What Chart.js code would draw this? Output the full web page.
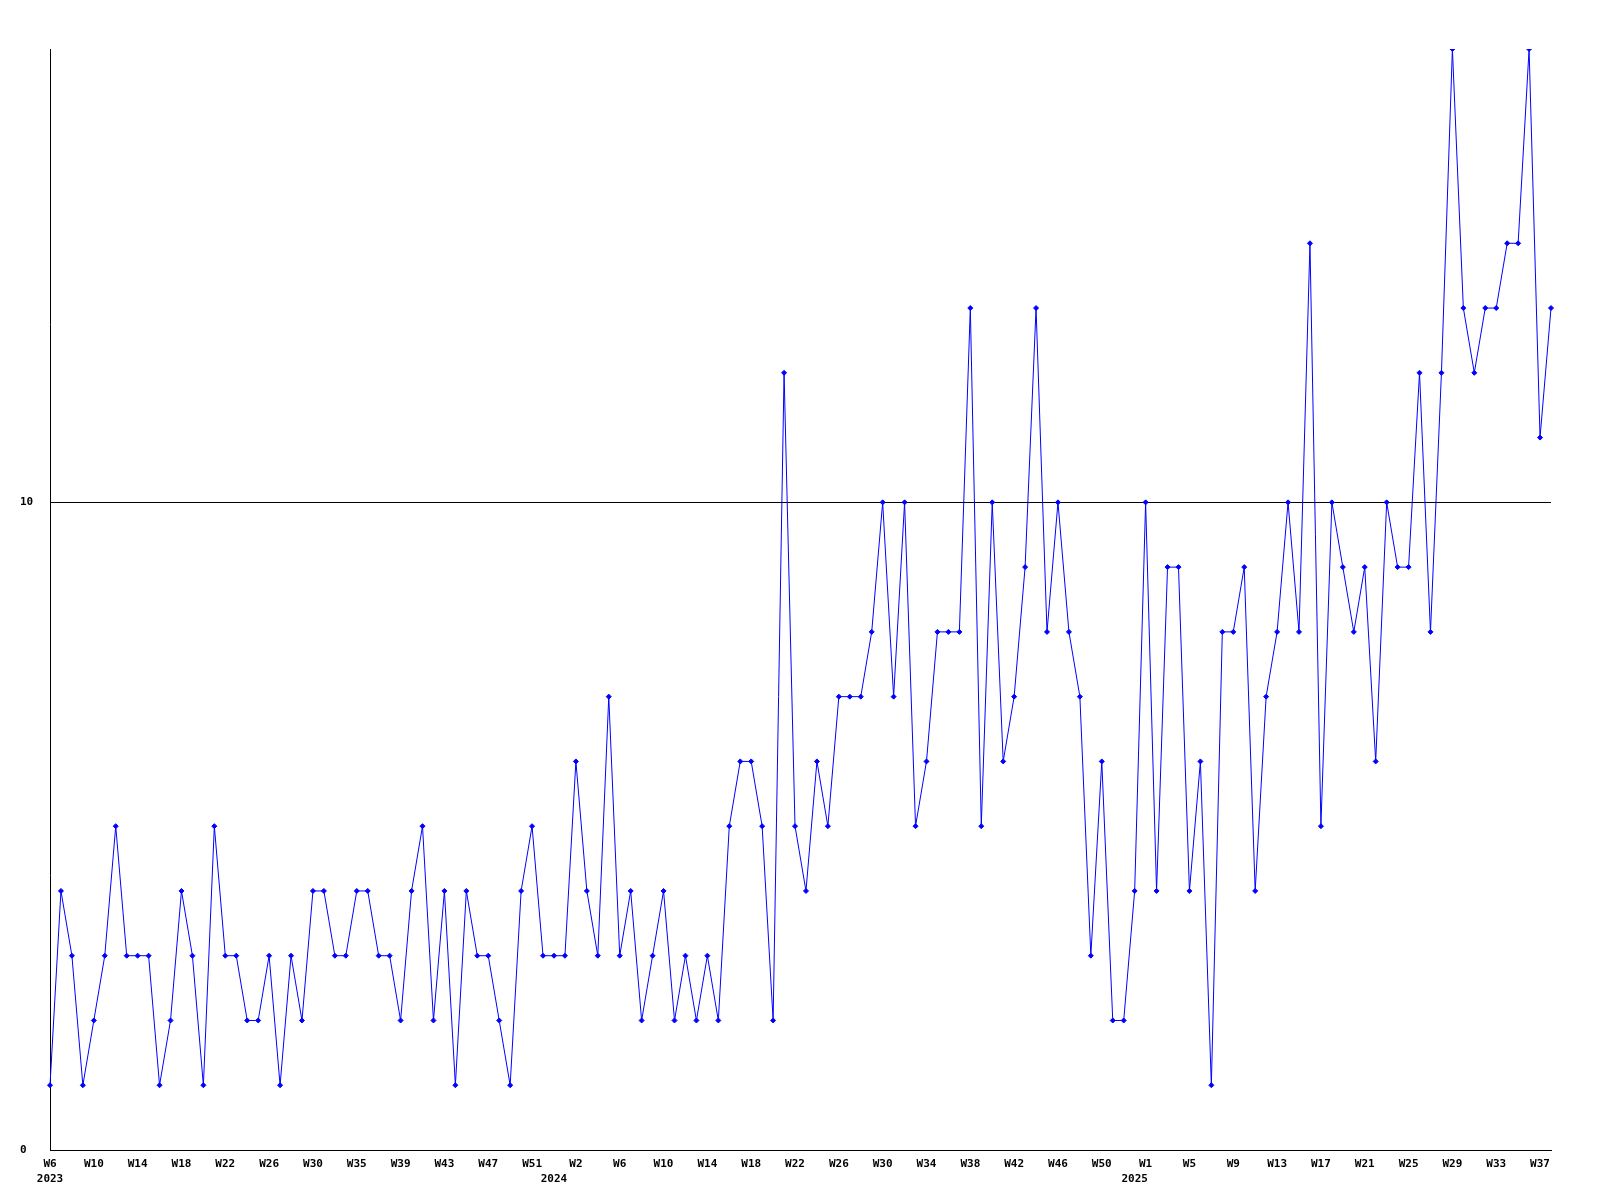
<!DOCTYPE html>
<html>
<head>
<meta charset="utf-8">
<title>Weekly count</title>
<script src="https://cdn.jsdelivr.net/npm/chart.js@4.4.1/dist/chart.umd.min.js"></script>
<style>
  html, body { margin: 0; padding: 0; background: #fff; }
  #wrap { width: 1600px; height: 1200px; }
</style>
</head>
<body>
<div id="wrap"><canvas id="weeklyChart" width="1600" height="1200"></canvas></div>
<script>
// Week tick labels, one every 4th point (W6 2023 .. W37 2025)
const tickLabels = [
  'W6', 'W10', 'W14', 'W18', 'W22', 'W26', 'W30', 'W35', 'W39', 'W43', 'W47', 'W51',
  'W2', 'W6', 'W10', 'W14', 'W18', 'W22', 'W26', 'W30', 'W34', 'W38', 'W42', 'W46', 'W50',
  'W1', 'W5', 'W9', 'W13', 'W17', 'W21', 'W25', 'W29', 'W33', 'W37',
];

// Year labels, placed under the point with this index (second label line)
const yearPointIndex = [0, 46, 99];
const yearLabels = ['2023', '2024', '2025'];

// One value per week
const weeklyValues = [
  1, 4, 3, 1, 2, 3, 5, 3, 3, 3,
  1, 2, 4, 3, 1, 5, 3, 3, 2, 2,
  3, 1, 3, 2, 4, 4, 3, 3, 4, 4,
  3, 3, 2, 4, 5, 2, 4, 1, 4, 3,
  3, 2, 1, 4, 5, 3, 3, 3, 6, 4,
  3, 7, 3, 4, 2, 3, 4, 2, 3, 2,
  3, 2, 5, 6, 6, 5, 2, 12, 5, 4,
  6, 5, 7, 7, 7, 8, 10, 7, 10, 5,
  6, 8, 8, 8, 13, 5, 10, 6, 7, 9,
  13, 8, 10, 8, 7, 3, 6, 2, 2, 4,
  10, 4, 9, 9, 4, 6, 1, 8, 8, 9,
  4, 7, 8, 10, 8, 14, 5, 10, 9, 8,
  9, 6, 10, 9, 9, 12, 8, 12, 17, 13,
  12, 13, 13, 14, 14, 17, 11, 13,
];

const yTickValues = [0, 10];
const TICK_STEP = 4;

const categories = weeklyValues.map((_, i) => {
  const week = i % TICK_STEP === 0 ? (tickLabels[i / TICK_STEP] || '') : '';
  const y = yearPointIndex.indexOf(i);
  return y >= 0 ? [week, yearLabels[y]] : week;
});

const FONT = { family: '"DejaVu Sans Mono", monospace', size: 11, weight: 'bold', lineHeight: 1.35 };

const ctx = document.getElementById('weeklyChart').getContext('2d');
new Chart(ctx, {
  type: 'line',
  data: {
    labels: categories,
    datasets: [
      {
        data: weeklyValues,
        borderColor: '#0000ff',
        backgroundColor: '#0000ff',
        borderWidth: 1,
        tension: 0,
        pointStyle: 'rectRot',
        pointRadius: 2.5,
        pointBorderWidth: 1,
        pointBorderColor: '#0000ff',
        pointBackgroundColor: '#0000ff',
      },
    ],
  },
  options: {
    responsive: false,
    devicePixelRatio: 1,
    animation: false,
    layout: { padding: { left: 20, top: 49, right: 49, bottom: 0 } },
    plugins: {
      legend: { display: false },
      tooltip: { enabled: false },
    },
    scales: {
      x: {
        offset: false,
        grid: { display: false },
        border: { display: true, color: '#000', width: 1 },
        ticks: {
          autoSkip: false,
          maxRotation: 0,
          minRotation: 0,
          padding: -1,
          color: '#000',
          font: FONT,
        },
        afterFit: (scale) => { scale.height = 50; },
      },
      y: {
        min: 0,
        max: 17,
        grid: { color: '#000', lineWidth: 1, drawTicks: false },
        border: { display: true, color: '#000', width: 1 },
        ticks: {
          crossAlign: 'far',
          padding: 0,
          color: '#000',
          font: FONT,
        },
        afterBuildTicks: (scale) => {
          scale.ticks = yTickValues.map((v) => ({ value: v }));
        },
        afterFit: (scale) => { scale.width = 30; },
      },
    },
  },
});
</script>
</body>
</html>
